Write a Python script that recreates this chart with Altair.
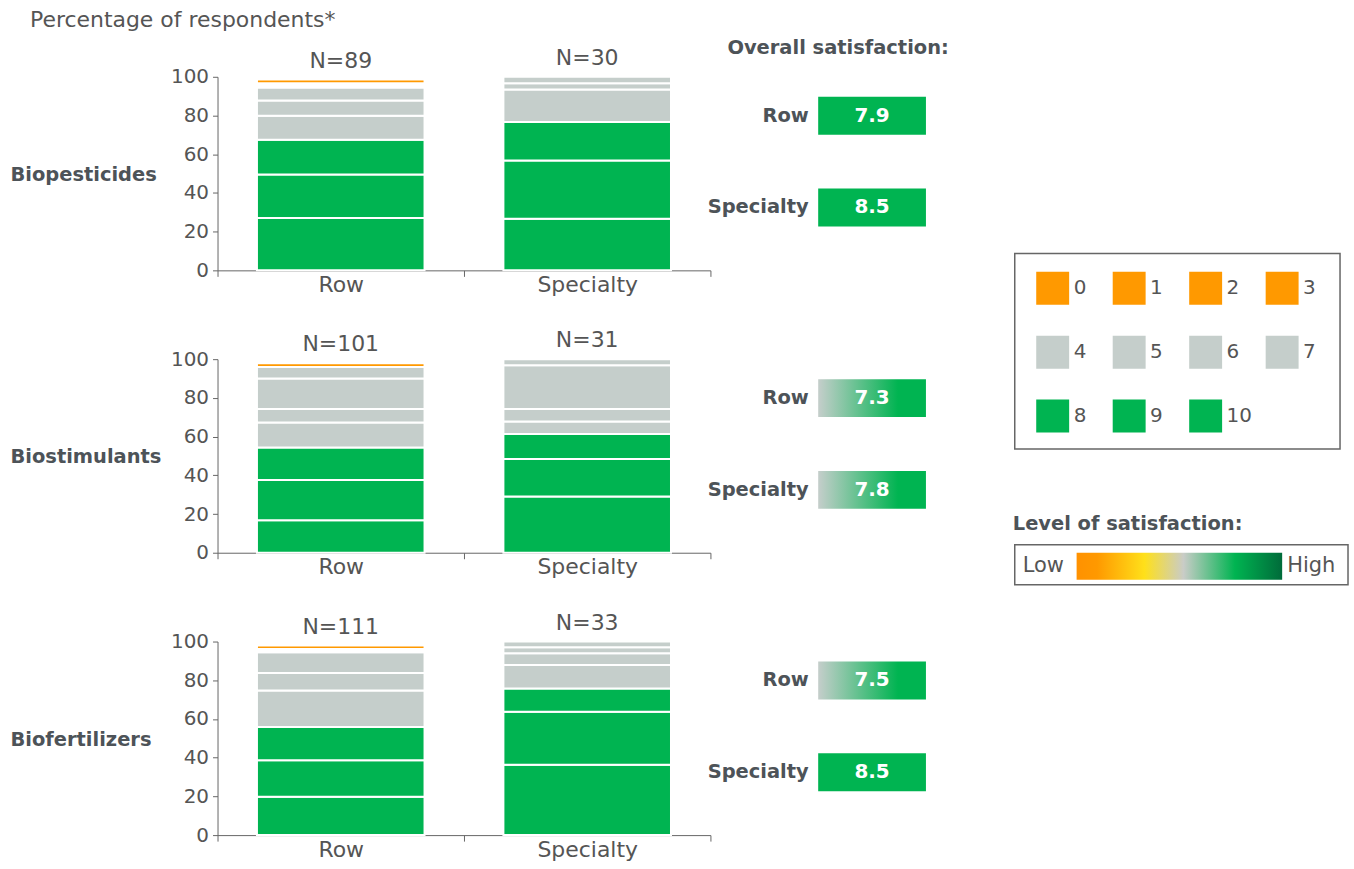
import altair as alt
import pandas as pd

FONT = "DejaVu Sans"
TXT = "#555555"
DARK = "#4D5358"
GREEN = "#00B451"
GRAY = "#C5CECB"
ORANGE = "#FF9900"

panels = ["Biopesticides", "Biostimulants", "Biofertilizers"]
segments = ["Row", "Specialty"]

# stack order, bottom to top ("gap" = unanswered share shown as blank)
stack_keys = ["10", "9", "8", "7", "6", "5", "4", "gap", "3", "2", "1", "0"]
key_colors = [GREEN] * 3 + [GRAY] * 4 + ["#FFFFFF"] + [ORANGE] * 4

# percentage of respondents per score, in stack order
biopest_row = [27.0, 22.5, 18.0, 12.4, 7.9, 6.7, 0, 2.2, 1.9, 0, 0, 0]
biopest_spec = [26.7, 30.0, 20.0, 16.7, 3.3, 3.3, 0, 0, 0, 0, 0, 0]
biostim_row = [16.8, 20.8, 16.8, 12.9, 6.9, 15.8, 5.9, 0, 2.0, 0, 0, 0]
biostim_spec = [29.0, 19.4, 12.9, 6.5, 6.5, 22.6, 3.1, 0, 0, 0, 0, 0]
biofert_row = [19.8, 18.9, 17.1, 18.9, 9.0, 10.8, 0, 1.6, 1.8, 0, 0, 0]
biofert_spec = [36.4, 27.3, 12.1, 12.1, 6.1, 3.0, 3.0, 0, 0, 0, 0, 0]

bar_values = [
    [biopest_row, biopest_spec],
    [biostim_row, biostim_spec],
    [biofert_row, biofert_spec],
]
sample_sizes = [[89, 30], [101, 31], [111, 33]]
sat_scores = [[7.9, 8.5], [7.3, 7.8], [7.5, 8.5]]
y_ticks = [0, 20, 40, 60, 80, 100]

legend_scores = [str(v) for v in range(11)]

sat_gradient = alt.LinearGradient(
    gradient="linear",
    stops=[
        alt.GradientStop(offset=0, color=GRAY),
        alt.GradientStop(offset=0.74, color=GREEN),
        alt.GradientStop(offset=1, color=GREEN),
    ],
    x1=0, x2=1, y1=0, y2=0,
)
level_gradient = alt.LinearGradient(
    gradient="linear",
    stops=[
        alt.GradientStop(offset=0, color="#FF9100"),
        alt.GradientStop(offset=0.1, color="#FF9900"),
        alt.GradientStop(offset=0.33, color="#FFE01A"),
        alt.GradientStop(offset=0.52, color="#C9CCC7"),
        alt.GradientStop(offset=0.77, color=GREEN),
        alt.GradientStop(offset=1, color="#006B3A"),
    ],
    x1=0, x2=1, y1=0, y2=0,
)

color_scale = alt.Scale(domain=stack_keys, range=key_colors)


def bar_panel(i):
    rows = []
    for s, seg in enumerate(segments):
        for k, key in enumerate(stack_keys):
            v = bar_values[i][s][k]
            if v > 0:
                rows.append({"segment": seg, "score": key, "order": k, "pct": v})
    df = pd.DataFrame(rows)
    ndf = pd.DataFrame({
        "segment": segments,
        "label": [f"N={n}" for n in sample_sizes[i]],
        "pct": [sum(v) for v in bar_values[i]],
    })
    yscale = alt.Scale(domain=[0, 100], nice=False)
    xscale = alt.Scale(paddingInner=0, paddingOuter=0)
    xaxis = alt.Axis(title=None, labelAngle=0, tickBand="extent", tickSize=6,
                     labelFontSize=22, labelColor=TXT, labelPadding=-2,
                     domainColor="#666666", tickColor="#666666")
    yaxis = alt.Axis(values=y_ticks, grid=False, tickSize=5,
                     labelOverlap=False, labelFlush=False,
                     labelFontSize=20, labelColor=TXT, labelPadding=4,
                     domainColor="#666666", tickColor="#666666",
                     title=panels[i], titleAngle=0, titleAlign="left",
                     titleBaseline="middle", titleX=-208, titleY=98,
                     titleFontSize=19.5, titleFontWeight="bold", titleColor=DARK)
    bars = alt.Chart(df).mark_bar(stroke="white", strokeWidth=2,
                                  width=alt.RelativeBandSize(0.68)).encode(
        x=alt.X("segment:N", sort=segments, scale=xscale, axis=xaxis),
        y=alt.Y("pct:Q", stack="zero", scale=yscale, axis=yaxis),
        color=alt.Color("score:N", scale=color_scale, legend=None),
        order=alt.Order("order:Q", sort="ascending"),
    )
    ntext = alt.Chart(ndf).mark_text(dy=-19, fontSize=22, color=TXT).encode(
        x=alt.X("segment:N", sort=segments, scale=xscale, axis=xaxis),
        y=alt.Y("pct:Q", scale=yscale, axis=yaxis),
        text="label:N",
    )
    return alt.layer(bars, ntext).properties(width=494, height=194)


def sat_panel(i, with_title=False):
    df = pd.DataFrame({
        "segment": segments,
        "rating": sat_scores[i],
        "metric": ["Overall", "Overall"],
    })
    df["label"] = [f"{v:.1f}" for v in sat_scores[i]]
    x = alt.X("metric:N", scale=alt.Scale(paddingInner=0, paddingOuter=0), axis=None)
    y = alt.Y(
        "segment:N", sort=segments,
        scale=alt.Scale(paddingInner=0.587, paddingOuter=0.2175),
        axis=alt.Axis(title=None, domain=False, ticks=False, labelPadding=10,
                      labelFontSize=19.5, labelFontWeight="bold", labelColor=DARK),
    )
    solid = alt.Chart(df).transform_filter(alt.datum.rating >= 7.9).mark_rect(color=GREEN).encode(x=x, y=y)
    grad = alt.Chart(df).transform_filter(alt.datum.rating < 7.9).mark_rect(color=sat_gradient).encode(x=x, y=y)
    txt = alt.Chart(df).mark_text(color="white", fontWeight="bold", fontSize=20).encode(
        x=x, y=y, text="label:N")
    props = dict(width=108, height=170)
    if with_title:
        props["title"] = alt.TitleParams(
            "Overall satisfaction:", anchor="start", frame="group", dx=-91, offset=18,
            fontSize=19.5, fontWeight="bold", color=DARK,
        )
    return alt.layer(solid, grad, txt).properties(**props)


cells = []
for i in range(3):
    cells.append(bar_panel(i))
    cells.append(sat_panel(i, i == 0))
grid = alt.concat(*cells, columns=2, spacing={"row": 89, "column": 108}, bounds="flush")

# legend of scores
leg_df = pd.DataFrame({
    "score": legend_scores,
    "col": [k % 4 for k in range(len(legend_scores))],
    "row": [k // 4 for k in range(len(legend_scores))],
})
lx = alt.X("col:Q", scale=alt.Scale(domain=[-0.496, 3.757]), axis=None)
ly = alt.Y("row:Q", scale=alt.Scale(domain=[-0.547, 2.516], reverse=True), axis=None)
leg_sq = alt.Chart(leg_df).mark_square(size=1089, opacity=1).encode(
    x=lx, y=ly, color=alt.Color("score:N", scale=color_scale, legend=None))
leg_txt = alt.Chart(leg_df).mark_text(align="left", dx=21, fontSize=20, color=TXT).encode(
    x=lx, y=ly, text="score:N")
legend_chart = alt.layer(leg_sq, leg_txt).properties(
    width=326, height=196, view=alt.ViewBackground(stroke="#666666", strokeWidth=1.5))

one = pd.DataFrame({"a": [0]})
grad_bar = alt.Chart(one).mark_rect(color=level_gradient).encode(
    x=alt.value(62), x2=alt.value(268), y=alt.value(8), y2=alt.value(35))
low_txt = alt.Chart(one).mark_text(text="Low", align="left", baseline="middle", fontSize=21, color=TXT).encode(
    x=alt.value(8), y=alt.value(21))
high_txt = alt.Chart(one).mark_text(text="High", align="left", baseline="middle", fontSize=21, color=TXT).encode(
    x=alt.value(273), y=alt.value(21))
level_chart = alt.layer(grad_bar, low_txt, high_txt).properties(
    width=334, height=40,
    view=alt.ViewBackground(stroke="#666666", strokeWidth=1.5),
    title=alt.TitleParams("Level of satisfaction:", anchor="start", dx=-2, offset=10,
                          fontSize=19.5, fontWeight="bold", color=DARK),
)

spacer = alt.Chart(one).mark_point(opacity=0).encode(x=alt.value(0), y=alt.value(0)).properties(
    width=326, height=81)

right_block = alt.vconcat(spacer, legend_chart, level_chart, spacing=96, bounds="flush")

chart = alt.hconcat(grid, right_block, spacing=62).properties(
    padding={"left": 10, "top": 8, "right": 5, "bottom": 5},
    title=alt.TitleParams("Percentage of respondents*", anchor="start", dx=20,
                          fontSize=22, fontWeight="normal", color=TXT, offset=6),
).configure(font=FONT).configure_view(stroke=None)

chart.save("out.html", embed_options={"renderer": "svg", "actions": False})
